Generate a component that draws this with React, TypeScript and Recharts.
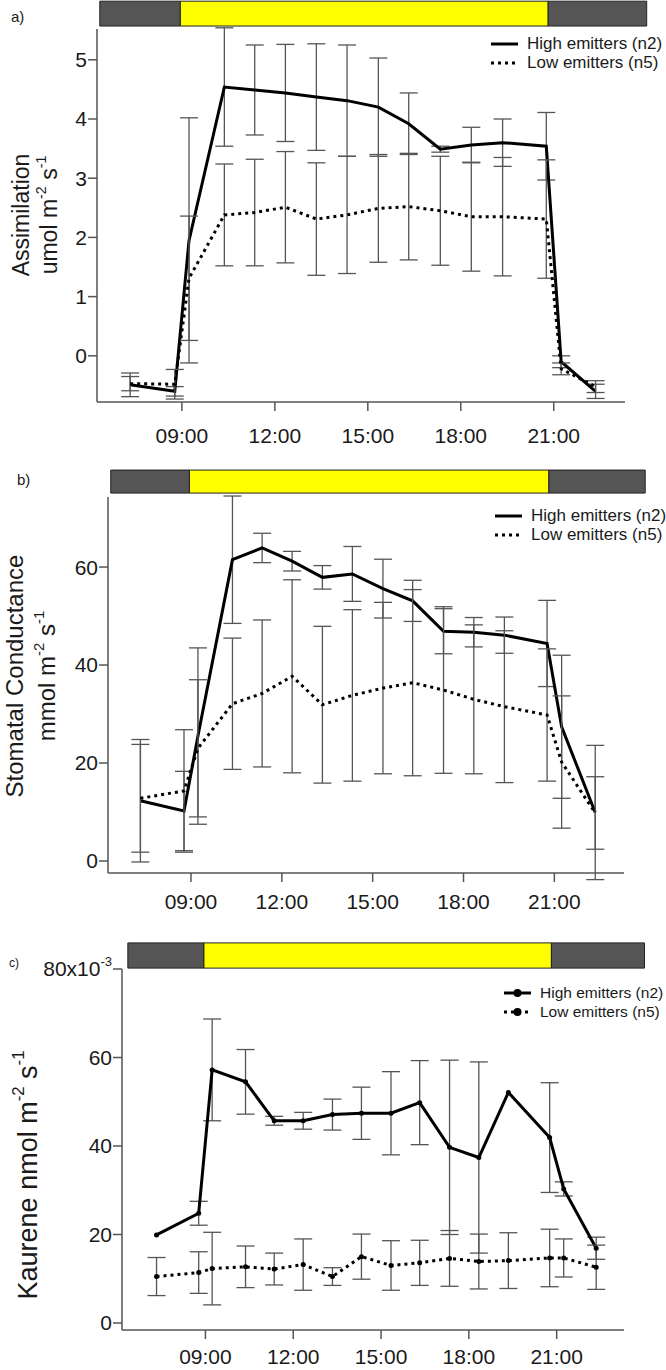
import { LineChart, Line, XAxis, YAxis, ErrorBar, ReferenceArea } from 'recharts';

// sampling times (decimal hours), shared by the three panels
const sampleHours = [7.33, 8.77, 9.23, 10.37, 11.35, 12.34, 13.34, 14.33, 15.34, 16.32, 17.34, 18.34, 19.35, 20.76, 21.24, 22.35];
const hourTicks = [9, 12, 15, 18, 21];
const seriesNames = ['High emitters (n2)', 'Low emitters (n5)'];

// dark / light / dark periods shown in the bar above each panel
const bandEdges = [6.35, 8.95, 20.82, 24.0];

// a) assimilation, umol m-2 s-1
const assimHigh = [-0.49, -0.6, 1.95, 4.54, 4.49, 4.44, 4.37, 4.31, 4.2, 3.92, 3.49, 3.56, 3.6, 3.54, -0.1, -0.6];
const assimHighErr = [0.2, 0.08, 2.07, 1.0, 0.76, 0.82, 0.9, 0.94, 0.83, 0.52, 0.05, 0.3, 0.4, 0.57, 0.1, 0.12];
const assimLow = [-0.47, -0.48, 1.31, 2.38, 2.42, 2.51, 2.31, 2.38, 2.49, 2.52, 2.45, 2.35, 2.35, 2.31, -0.22, -0.52];
const assimLowErr = [0.12, 0.25, 1.05, 0.86, 0.9, 0.94, 0.95, 0.99, 0.91, 0.9, 0.92, 0.92, 1.0, 1.0, 0.1, 0.1];
const assimTicks = [0, 1, 2, 3, 4, 5];

// b) stomatal conductance, mmol m-2 s-1
const condHigh = [12.3, 10.2, 25.5, 61.5, 63.9, 61.2, 57.9, 58.6, 55.6, 53.1, 46.9, 46.7, 46.1, 44.4, 27.4, 9.9];
const condHighErr = [12.5, 8.1, 18.0, 13.0, 3.0, 2.0, 2.4, 5.6, 6.0, 4.2, 4.6, 3.0, 3.7, 8.8, 14.6, 13.7];
const condLow = [12.8, 14.3, 23.0, 32.1, 34.2, 37.7, 31.9, 33.8, 35.3, 36.4, 34.9, 33.0, 31.5, 29.8, 20.2, 9.8];
const condLowErr = [11.0, 12.5, 14.0, 13.4, 15.0, 19.7, 16.0, 17.5, 17.5, 19.0, 17.0, 15.2, 15.5, 13.5, 13.5, 7.4];
const condTicks = [0, 20, 40, 60];

// c) kaurene, nmol m-2 s-1 (x10-3)
const kaurHigh = [19.9, 24.8, 57.2, 54.5, 45.7, 45.7, 47.1, 47.4, 47.4, 49.8, 39.7, 37.4, 52.1, 41.9, 30.3, 16.9];
const kaurHighErr = [null, 2.7, 11.5, 7.3, 1.0, 1.9, 3.5, 5.9, 9.4, 9.5, 19.7, 21.6, null, 12.4, 1.6, 2.5];
const kaurLow = [10.5, 11.4, 12.3, 12.7, 12.2, 13.2, 10.5, 15.0, 13.0, 13.6, 14.6, 13.9, 14.1, 14.7, 14.7, 12.6];
const kaurLowErr = [4.3, 4.7, 8.2, 4.7, 3.6, 5.8, 2.0, 5.1, 5.6, 5.1, 6.3, 6.2, 6.3, 6.5, 4.3, 5.0];
const kaurTicks = [0, 20, 40, 60, 80];

const FONT = '"Liberation Sans", Arial, Helvetica, sans-serif';
const AXIS = '#555';
const INK = '#1a1a1a';
const NIGHT = '#555555';
const DAY = '#ffff00';
const TICK_SIZE = 21;

const toRows = (high: number[], highErr: (number | null)[], low: number[], lowErr: (number | null)[]) =>
  sampleHours.map((hour, i) => ({ hour, high: high[i], highErr: highErr[i], low: low[i], lowErr: lowErr[i] }));

const fmtHour = (h: number) => `${String(h).padStart(2, '0')}:00`;

const KaureneTick = (props: any) => {
  const { x, y, payload } = props;
  return (
    <text x={x} y={y} dy="0.35em" textAnchor="end" fill={INK} fontSize={TICK_SIZE} fontFamily={FONT}>
      {payload.value === 80 ? (
        <>
          80x10<tspan dy={-10} fontSize={13}>-3</tspan>
        </>
      ) : (
        payload.value
      )}
    </text>
  );
};

function SeriesKey({ top, left, dots, fontSize }: { top: number; left: number; dots?: boolean; fontSize: number }) {
  return (
    <div style={{ position: 'absolute', top, left, fontSize, color: INK, whiteSpace: 'nowrap' }}>
      {seriesNames.map((name, i) => (
        <div key={name} style={{ display: 'flex', alignItems: 'center', height: 19 }}>
          <svg width={30} height={10} style={{ marginRight: 7 }}>
            <line x1={1} x2={28} y1={5} y2={5} stroke="#000" strokeWidth={3} strokeDasharray={i ? '3 4' : undefined} />
            {dots && <circle cx={14.5} cy={5} r={4} fill="#000" />}
          </svg>
          <span>{name}</span>
        </div>
      ))}
    </div>
  );
}

function Title({ cx, cy, size, gap, lines }: { cx: number; cy: number; size: number; gap: number; lines: React.ReactNode[] }) {
  return (
    <div
      style={{
        position: 'absolute', left: cx, top: cy, transform: 'translate(-50%, -50%) rotate(-90deg)',
        fontSize: size, lineHeight: `${gap}px`, textAlign: 'center', whiteSpace: 'nowrap', color: INK,
      }}
    >
      {lines.map((l, i) => <div key={i}>{l}</div>)}
    </div>
  );
}

const sup = (s: string) => <sup style={{ fontSize: '0.62em', lineHeight: 0, verticalAlign: '0.75em' }}>{s}</sup>;

type PanelProps = {
  top: number; height: number; margin: any; yAxisWidth: number; xDomain: number[]; yDomain: number[];
  yTicks: number[]; bandY: number[]; rows: any[]; xGap: number; dots?: boolean; yTick?: any;
};

function Panel({ top, height, margin, yAxisWidth, xDomain, yDomain, yTicks, bandY, rows, xGap, dots, yTick }: PanelProps) {
  const bandFills = [NIGHT, DAY, NIGHT];
  const dot = dots ? { r: 2.5, fill: '#000', stroke: '#000', strokeWidth: 0 } : false;
  return (
    <div style={{ position: 'absolute', left: 0, top }}>
      <LineChart width={666} height={height} data={rows} margin={margin}>
        <XAxis
          type="number" dataKey="hour" domain={xDomain} ticks={hourTicks} tickFormatter={fmtHour} allowDataOverflow
          height={44} stroke={AXIS} strokeWidth={1.5} tickSize={9} tickMargin={xGap}
          tick={{ fill: INK, fontSize: TICK_SIZE, fontFamily: FONT }}
        />
        <YAxis
          type="number" domain={yDomain} ticks={yTicks} allowDataOverflow width={yAxisWidth}
          stroke={AXIS} strokeWidth={1.5} tickSize={9} tickMargin={1}
          tick={yTick ?? { fill: INK, fontSize: TICK_SIZE, fontFamily: FONT }}
        />
        {bandFills.map((fill, i) => (
          <ReferenceArea
            key={i} x1={bandEdges[i]} x2={bandEdges[i + 1]} y1={bandY[0]} y2={bandY[1]}
            fill={fill} fillOpacity={1} stroke="#222" strokeWidth={1} ifOverflow="visible"
          />
        ))}
        <Line type="linear" dataKey="high" stroke="#000" strokeWidth={3} dot={dot} isAnimationActive={false}>
          <ErrorBar dataKey="highErr" direction="y" width={9} stroke={AXIS} strokeWidth={1.3} />
        </Line>
        <Line type="linear" dataKey="low" stroke="#000" strokeWidth={3} strokeDasharray="3 4" dot={dot} isAnimationActive={false}>
          <ErrorBar dataKey="lowErr" direction="y" width={9} stroke={AXIS} strokeWidth={1.3} />
        </Line>
      </LineChart>
    </div>
  );
}

export default function App() {
  return (
    <div style={{ position: 'absolute', left: 0, top: 0, width: 666, height: 1370, background: '#fff', fontFamily: FONT, overflow: 'hidden' }}>
      <Panel
        top={0} height={446} margin={{ top: 29, right: 41, bottom: 0, left: 0 }} yAxisWidth={97}
        xDomain={[6.26, 23.3]} yDomain={[-0.78, 5.52]} yTicks={assimTicks} bandY={[5.57, 5.99]}
        rows={toRows(assimHigh, assimHighErr, assimLow, assimLowErr)} xGap={17}
      />
      <Panel
        top={440} height={477} margin={{ top: 57, right: 42, bottom: 0, left: 0 }} yAxisWidth={108}
        xDomain={[6.26, 23.3]} yDomain={[-2.45, 74.3]} yTicks={condTicks} bandY={[75.1, 79.8]}
        rows={toRows(condHigh, condHighErr, condLow, condLowErr)} xGap={12}
      />
      <Panel
        top={920} height={454} margin={{ top: 49, right: 42, bottom: 0, left: 0 }} yAxisWidth={122}
        xDomain={[6.15, 23.3]} yDomain={[-1.58, 80]} yTicks={kaurTicks} bandY={[80.2, 85.9]}
        rows={toRows(kaurHigh, kaurHighErr, kaurLow, kaurLowErr)} xGap={10} dots yTick={<KaureneTick />}
      />

      <div style={{ position: 'absolute', left: 11, top: 8, fontSize: 15, color: INK }}>a)</div>
      <div style={{ position: 'absolute', left: 17, top: 471, fontSize: 15, color: INK }}>b)</div>
      <div style={{ position: 'absolute', left: 9, top: 956, fontSize: 12, color: INK }}>c)</div>

      <Title cx={35} cy={215} size={23} gap={28} lines={['Assimilation', <>umol m{sup('-2')} s{sup('-1')}</>]} />
      <Title cx={31} cy={676} size={24} gap={32} lines={['Stomatal Conductance', <>mmol m{sup('-2')} s{sup('-1')}</>]} />
      <Title cx={28} cy={1175} size={27} gap={30} lines={[<>Kaurene nmol m{sup('-2')} s{sup('-1')}</>]} />

      <SeriesKey top={34} left={490} fontSize={17} />
      <SeriesKey top={506} left={494} fontSize={17} />
      <SeriesKey top={983} left={503} fontSize={15.5} dots />
    </div>
  );
}
